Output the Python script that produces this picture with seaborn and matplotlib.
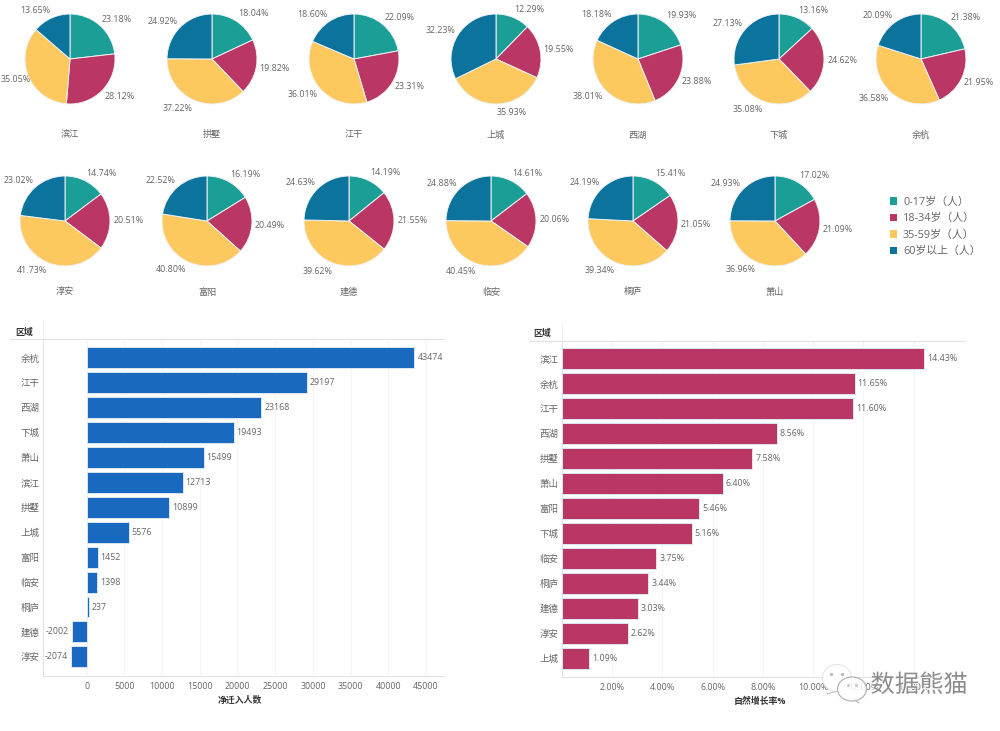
import matplotlib
matplotlib.use("Agg")
import matplotlib.pyplot as plt
import matplotlib.patheffects as pe
from matplotlib.lines import Line2D
from matplotlib.patches import Ellipse, Patch
import pandas as pd
import seaborn as sns

sns.set_theme(style="white")
plt.rcParams["font.family"] = ["Open Sans", "Noto Sans CJK SC", "DejaVu Sans"]

# -------- Data --------
districts = ["滨江", "拱墅", "江干", "上城", "西湖", "下城", "余杭",
             "淳安", "富阳", "建德", "临安", "桐庐", "萧山"]
age_groups = ["0-17岁（人）", "18-34岁（人）", "35-59岁（人）", "60岁以上（人）"]
age_0_17 = [23.18, 18.04, 22.09, 12.29, 19.93, 13.16, 21.38, 14.74, 16.19, 14.19, 14.61, 15.41, 17.02]
age_18_34 = [28.12, 19.82, 23.31, 19.55, 23.88, 24.62, 21.95, 20.51, 20.49, 21.55, 20.06, 21.05, 21.09]
age_35_59 = [35.05, 37.22, 36.01, 35.93, 38.01, 35.08, 36.58, 41.73, 40.80, 39.62, 40.45, 39.34, 36.96]
age_60_up = [13.65, 24.92, 18.60, 32.23, 18.18, 27.13, 20.09, 23.02, 22.52, 24.63, 24.88, 24.19, 24.93]

migration_names = ["余杭", "江干", "西湖", "下城", "萧山", "滨江", "拱墅", "上城", "富阳", "临安", "桐庐", "建德", "淳安"]
migration_values = [43474, 29197, 23168, 19493, 15499, 12713, 10899, 5576, 1452, 1398, 237, -2002, -2074]
migration_ticks = [0, 5000, 10000, 15000, 20000, 25000, 30000, 35000, 40000, 45000]

growth_names = ["滨江", "余杭", "江干", "西湖", "拱墅", "萧山", "富阳", "下城", "临安", "桐庐", "建德", "淳安", "上城"]
growth_values = [14.43, 11.65, 11.60, 8.56, 7.58, 6.40, 5.46, 5.16, 3.75, 3.44, 3.03, 2.62, 1.09]
growth_ticks = [2, 4, 6, 8, 10, 12, 14]

# -------- Style --------
W, H = 1000, 731
PIE_COLORS = ["#1a9e96", "#b93665", "#fdc85e", "#0b739c"]
BLUE = "#1a69c0"
CRIMSON = "#b93665"
TEXT = "#666666"
DARK = "#333333"
GRID = "#f4f4f4"
LINE = "#e2e2e2"
PIE_R = 45

fig = plt.figure(figsize=(W / 100, H / 100), dpi=100, facecolor="white")


def px_axes(x0, y0, x1, y1, **kw):
    # pixel box measured from the top left of the picture
    return fig.add_axes([x0 / W, 1 - y1 / H, (x1 - x0) / W, (y1 - y0) / H], **kw)


# -------- Pies --------
pie_centers = [(70, 59), (212, 59), (354, 59), (496, 59), (638, 59), (779, 59), (921, 59),
               (65, 221), (207, 221), (349, 221), (491, 221), (633, 221), (775, 221)]
name_y = [135] * 7 + [292] * 6

for i, name in enumerate(districts):
    cx, cy = pie_centers[i]
    box = PIE_R + 2
    ax = px_axes(cx - box, cy - box, cx + box, cy + box)
    vals = [age_0_17[i], age_18_34[i], age_35_59[i], age_60_up[i]]
    labels = [f"{v:.2f}%" for v in vals]
    wedges, texts = ax.pie(vals, colors=PIE_COLORS, startangle=90, counterclock=False,
                           radius=PIE_R / box, labels=labels, labeldistance=1.07,
                           wedgeprops={"edgecolor": "#eef2f4", "linewidth": 0.7},
                           textprops={"fontsize": 6.4, "color": TEXT})
    for t in texts:
        # labels sit further out vertically than sideways
        x, y = t.get_position()
        # keep right aligned labels inside the picture edge (label is about 30px wide)
        x = max(x, (31 - cx) / box)
        t.set_position((x, y * 1.11))
        t.set_clip_on(False)
    ax.set_xlim(-1, 1)
    ax.set_ylim(-1, 1)
    fig.text(cx / W, 1 - name_y[i] / H, name, fontsize=6.6, color=TEXT, ha="center", va="center")

# -------- Legend --------
handles = [Patch(facecolor=c, edgecolor="none") for c in PIE_COLORS]
fig.legend(handles, age_groups, loc="center left", bbox_to_anchor=(890 / W, 1 - 227 / H),
           frameon=False, fontsize=7.8, labelcolor=TEXT, handlelength=0.65, handleheight=0.65,
           handletextpad=0.55, labelspacing=0.5, borderpad=0, borderaxespad=0)


# -------- Bars --------
def draw_bars(box, names, values, color, ticks, xlim, ylim, xlabel, fmt, tick_fmt):
    ax = px_axes(*box)
    df = pd.DataFrame({"region": names, "value": values})
    sns.barplot(data=df, x="value", y="region", color=color, orient="h", ax=ax, width=0.84,
                saturation=1, edgecolor="#dbe6f3", linewidth=0.7, zorder=3)
    ax.set_xlim(*xlim)
    ax.set_ylim(*ylim)
    ax.set_xticks(ticks)
    ax.set_xticklabels([tick_fmt(t) for t in ticks], fontsize=6.4, color=TEXT)
    ax.tick_params(axis="x", length=0, pad=4)
    ax.tick_params(axis="y", length=0, pad=2.5, labelsize=6.8, labelcolor=TEXT)
    ax.set_ylabel("")
    ax.set_xlabel(xlabel, fontsize=6.4, color=DARK, fontweight="bold", labelpad=4, x=0.492)
    ax.grid(axis="x", color=GRID, linewidth=0.7, zorder=0)
    for side in ["top", "right"]:
        ax.spines[side].set_visible(False)
    for side in ["left", "bottom"]:
        ax.spines[side].set_color(LINE)
        ax.spines[side].set_linewidth(0.8)
    for i, v in enumerate(values):
        off = 3 if v >= 0 else -3
        ax.annotate(fmt(v), (v, i), xytext=(off * 0.72, 0), textcoords="offset points",
                    ha="left" if v >= 0 else "right", va="center", fontsize=6.4, color=TEXT, zorder=4)
    return ax


draw_bars((43, 339, 444, 676), migration_names, migration_values, BLUE, migration_ticks,
          (-5800, 47400), (12.77, -0.76), "净迁入人数", lambda v: f"{v}", lambda t: f"{t}")
draw_bars((562, 341, 965, 677), growth_names, growth_values, CRIMSON, growth_ticks,
          (0, 16.05), (12.76, -0.72), "自然增长率%", lambda v: f"{v:.2f}%", lambda t: f"{t:.2f}%")

# header rows above the bar tables
for x0, x1, xv, y, ty, tx in [(10, 444, 43, 339, 332, 24), (529, 965, 562, 341, 333, 542)]:
    fig.add_artist(Line2D([x0 / W, x1 / W], [1 - y / H] * 2, color=LINE, linewidth=0.8))
    fig.add_artist(Line2D([xv / W, xv / W], [1 - y / H, 1 - (y - 19) / H], color="#f2f2f2", linewidth=0.8))
    fig.text(tx / W, 1 - ty / H, "区域", fontsize=6.4, color=DARK, fontweight="bold", ha="center", va="center")

# -------- Watermark --------
overlay = px_axes(0, 0, W, H, zorder=10)
overlay.set_xlim(0, W)
overlay.set_ylim(H, 0)
overlay.axis("off")
overlay.patch.set_alpha(0)
overlay.add_patch(Ellipse((837, 678), 29, 27, facecolor="white", edgecolor="#e6e6e6", linewidth=0.8))
overlay.add_patch(Ellipse((852, 689), 29, 24, facecolor=(1, 1, 1, 0.85), edgecolor="#b5b5b5", linewidth=0.9))
overlay.plot([831, 842], [674, 674], ls="none", marker="o", ms=1.4, color="#bbbbbb")
overlay.plot([848, 856], [685, 685], ls="none", marker="o", ms=1.2, color="#cccccc")
overlay.plot([827, 838], [694, 691], color="#c4c4c4", linewidth=0.8)
overlay.plot([855, 859], [700, 703], color="#b5b5b5", linewidth=0.8)
overlay.text(919, 686, "数据熊猫", fontsize=17.5, color="#8c8c8c", ha="center", va="center",
             fontweight="light", path_effects=[pe.withStroke(linewidth=1.2, foreground="white")])

fig.savefig("out.png", dpi=100)
plt.close(fig)
